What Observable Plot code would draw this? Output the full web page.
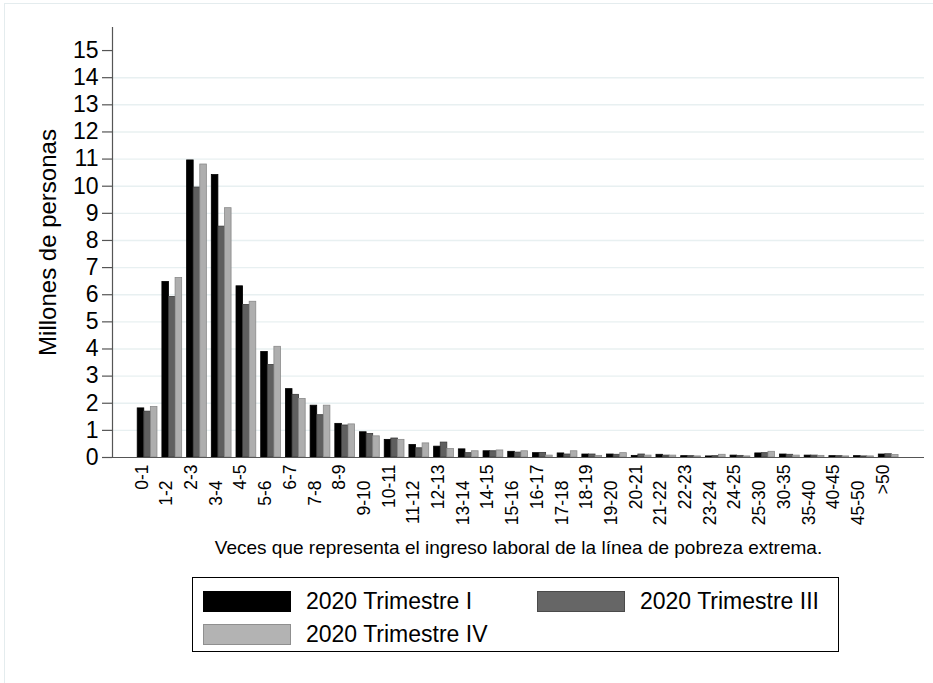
<!DOCTYPE html>
<html><head><meta charset="utf-8">
<script src="https://cdn.jsdelivr.net/npm/d3@7"></script>
<script src="https://cdn.jsdelivr.net/npm/@observablehq/plot@0.6"></script>
<style>
html,body{margin:0;padding:0;background:#fff;}
body{font-family:"Liberation Sans",Arial,Helvetica,sans-serif;}
#wrap{position:relative;width:933px;height:683px;overflow:hidden;background:#fff;}
#chart svg{display:block;}
#frame{position:absolute;left:4px;top:3px;width:940px;height:700px;border-left:1px solid #e4ecee;border-top:1px solid #e4ecee;}
#legend{position:absolute;left:192px;top:577px;width:647px;height:75px;border:1px solid #000;box-sizing:border-box;}
.item{position:absolute;display:flex;align-items:center;font-size:23px;color:#000;white-space:nowrap;}
.sw{width:88px;height:21px;box-sizing:border-box;border:1px solid;margin-right:15px;}
</style></head><body>
<div id="wrap"><div id="frame"></div><div id="chart"></div><div id="legend"></div></div>
<script>
const categories = ["0-1","1-2","2-3","3-4","4-5","5-6","6-7","7-8","8-9","9-10","10-11","11-12","12-13","13-14","14-15","15-16","16-17","17-18","18-19","19-20","20-21","21-22","22-23","23-24","24-25","25-30","30-35","35-40","40-45","45-50",">50"];
const serieNames = ["2020 Trimestre I","2020 Trimestre III","2020 Trimestre IV"];
const trimI   = [1.81,6.47,10.95,10.41,6.31,3.89,2.52,1.91,1.24,0.93,0.65,0.46,0.40,0.30,0.23,0.21,0.16,0.15,0.11,0.11,0.06,0.10,0.05,0.04,0.07,0.15,0.11,0.07,0.05,0.05,0.11];
const trimIII = [1.69,5.92,9.95,8.51,5.62,3.41,2.31,1.56,1.18,0.87,0.70,0.34,0.55,0.16,0.23,0.18,0.17,0.11,0.11,0.10,0.11,0.07,0.05,0.05,0.06,0.16,0.10,0.07,0.05,0.04,0.12];
const trimIV  = [1.86,6.62,10.80,9.19,5.74,4.08,2.16,1.91,1.22,0.78,0.65,0.52,0.31,0.23,0.26,0.23,0.07,0.23,0.06,0.16,0.07,0.07,0.04,0.10,0.04,0.21,0.07,0.06,0.04,0.04,0.09];
const yTicks = [0,1,2,3,4,5,6,7,8,9,10,11,12,13,14,15];
const gridTicks = [1,2,3,4,5,6,7,8,9,10,11,12,13,14];
const yTitle = "Millones de personas";
const xTitle = "Veces que representa el ingreso laboral de la línea de pobreza extrema.";

const series = [trimI, trimIII, trimIV];
const fills = ["#000000","#5f5f5f","#aeaeae"];
const strokes = ["#000000","#3a3a3a","#8a8a8a"];
const swBorders = ["#000000","#4a4a4a","#8f8f8f"];
const swFills = ["#000000","#666666","#b3b3b3"];

const xDom = [-1.42, 31.45];
const yDom = [0, 15.85];
const groupW = 0.8, barW = groupW / 3;
const font = "Liberation Sans, Arial, Helvetica, sans-serif";

const barMarks = series.map((vals, k) => Plot.rect(
  vals.map((v, i) => ({i, cat: categories[i], serie: serieNames[k], value: v})),
  {x1: d => d.i - groupW/2 + k*barW, x2: d => d.i - groupW/2 + (k+1)*barW,
   y1: 0, y2: "value", fill: fills[k], stroke: strokes[k], strokeWidth: 0.8}
));

const chart = Plot.plot({
  width: 933, height: 565,
  marginLeft: 112, marginRight: 9, marginTop: 27, marginBottom: 108,
  x: {type: "linear", domain: xDom, axis: null},
  y: {domain: yDom, axis: null},
  style: {fontFamily: font, background: "transparent", color: "#000"},
  marks: [
    Plot.ruleY(gridTicks, {y: d => d, stroke: "#e8f0f1", strokeWidth: 1.4}),
    ...barMarks,
    Plot.ruleX([xDom[0]], {x: d => d, stroke: "#555", strokeWidth: 1.2}),
    Plot.ruleY([0], {y: d => d, stroke: "#555", strokeWidth: 1.2}),
    Plot.ruleY(yTicks, {y: d => d, x1: () => xDom[0], x2: () => xDom[0], insetLeft: -10, stroke: "#555", strokeWidth: 1.2}),
    Plot.text(yTicks, {y: d => d, text: d => String(d), frameAnchor: "left", textAnchor: "end", dx: -14, fontSize: 23, fill: "#000"}),
    Plot.text(categories, {filter: (d, i) => i % 2 === 0, x: (d, i) => i, text: d => d, frameAnchor: "bottom", rotate: -90, textAnchor: "end", dy: 7, fontSize: 17.5, fill: "#000"}),
    Plot.text(categories, {filter: (d, i) => i % 2 === 1, x: (d, i) => i, text: d => d, frameAnchor: "bottom", rotate: -90, textAnchor: "end", dy: 23, fontSize: 17.5, fill: "#000"}),
    Plot.text([yTitle], {text: d => d, frameAnchor: "left", textAnchor: "middle", rotate: -90, dx: -64, fontSize: 24, fill: "#000"}),
    Plot.text([xTitle], {text: d => d, frameAnchor: "bottom", textAnchor: "middle", dy: 96, fontSize: 19, fill: "#000"})
  ]
});
document.getElementById("chart").appendChild(chart);

const legend = document.getElementById("legend");
const pos = [[10, 10], [344, 10], [10, 43]];
serieNames.forEach((name, k) => {
  const it = document.createElement("div");
  it.className = "item";
  it.style.left = pos[k][0] + "px";
  it.style.top = pos[k][1] + "px";
  const sw = document.createElement("div");
  sw.className = "sw";
  sw.style.background = swFills[k];
  sw.style.borderColor = swBorders[k];
  const tx = document.createElement("span");
  tx.textContent = name;
  it.appendChild(sw); it.appendChild(tx);
  legend.appendChild(it);
});
</script>
</body></html>
